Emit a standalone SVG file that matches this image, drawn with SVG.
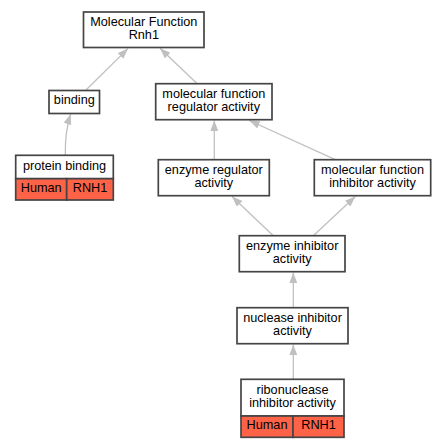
<svg xmlns="http://www.w3.org/2000/svg" width="445" height="448" viewBox="0 0 445 448">
<style>
.box{fill:#ffffff;stroke:#454545;stroke-width:1.7}
.red{fill:#ff6347;stroke:#454545;stroke-width:1.7}
text{font-family:"Liberation Sans",Arial,sans-serif;font-size:12.7px;fill:#000;text-anchor:middle}
.edge{fill:none;stroke:#c0c0c0;stroke-width:1.3;marker-end:url(#ah)}
</style>
<defs>
<marker id="ah" viewBox="0 0 10.5 8" markerUnits="userSpaceOnUse" markerWidth="10.5" markerHeight="8" refX="10.5" refY="4" orient="auto">
<path d="M0,0 L10.5,4 L0,8 z" fill="#c0c0c0"/>
</marker>
</defs>
<rect width="445" height="448" fill="#ffffff"/>
<g id="edges">
<path class="edge" d="M86,90 L128,48.6"/>
<path class="edge" d="M196.7,83.3 L160,48.3"/>
<path class="edge" d="M65.3,155 C65,138 67,125 70.7,114"/>
<path class="edge" d="M214.3,159.7 L214.3,120.5"/>
<path class="edge" d="M335.3,159.7 L249.3,120.5"/>
<path class="edge" d="M273.3,235.7 L232,196.5"/>
<path class="edge" d="M313.3,235.7 L355.3,196.5"/>
<path class="edge" d="M293.3,307.7 L293.3,272.6"/>
<path class="edge" d="M293.3,379.3 L293.3,344.6"/>
</g>
<g id="mf_rnh1">
<rect class="box" x="83.5" y="12" width="120.5" height="35.5"/>
<text x="143.8" y="25.8">Molecular Function</text>
<text x="143.8" y="38.8">Rnh1</text>
</g>
<g id="binding">
<rect class="box" x="49" y="90.5" width="50.5" height="23"/>
<text x="74.3" y="104.4">binding</text>
</g>
<g id="mf_regulator">
<rect class="box" x="155.7" y="83.7" width="116.3" height="36"/>
<text x="213.8" y="97.7">molecular function</text>
<text x="213.8" y="110.7">regulator activity</text>
</g>
<g id="protein_binding">
<rect class="box" x="15.7" y="155.3" width="97.6" height="23.4"/>
<text x="64.5" y="170">protein binding</text>
<rect class="red" x="15.7" y="178.7" width="51" height="21.3"/>
<rect class="red" x="66.7" y="178.7" width="46.6" height="21.3"/>
<text x="41.2" y="192.4">Human</text>
<text x="90" y="192.4">RNH1</text>
</g>
<g id="enzyme_regulator">
<rect class="box" x="158.3" y="159.7" width="111" height="36"/>
<text x="213.8" y="173.7">enzyme regulator</text>
<text x="213.8" y="186.7">activity</text>
</g>
<g id="mf_inhibitor">
<rect class="box" x="314.3" y="159.7" width="116.4" height="36"/>
<text x="372.5" y="173.7">molecular function</text>
<text x="372.5" y="186.7">inhibitor activity</text>
</g>
<g id="enzyme_inhibitor">
<rect class="box" x="239.3" y="235.7" width="105.7" height="36"/>
<text x="292.2" y="249.7">enzyme inhibitor</text>
<text x="292.2" y="262.7">activity</text>
</g>
<g id="nuclease_inhibitor">
<rect class="box" x="237" y="307.7" width="111" height="36"/>
<text x="292.5" y="321.7">nuclease inhibitor</text>
<text x="292.5" y="334.7">activity</text>
</g>
<g id="ribonuclease_inhibitor">
<rect class="box" x="241" y="379.3" width="103" height="36.7"/>
<text x="292.5" y="393.9">ribonuclease</text>
<text x="292.5" y="406.7">inhibitor activity</text>
<rect class="red" x="241" y="416" width="52" height="21.3"/>
<rect class="red" x="293" y="416" width="51" height="21.3"/>
<text x="267" y="429.3">Human</text>
<text x="318.5" y="429.3">RNH1</text>
</g>
</svg>
